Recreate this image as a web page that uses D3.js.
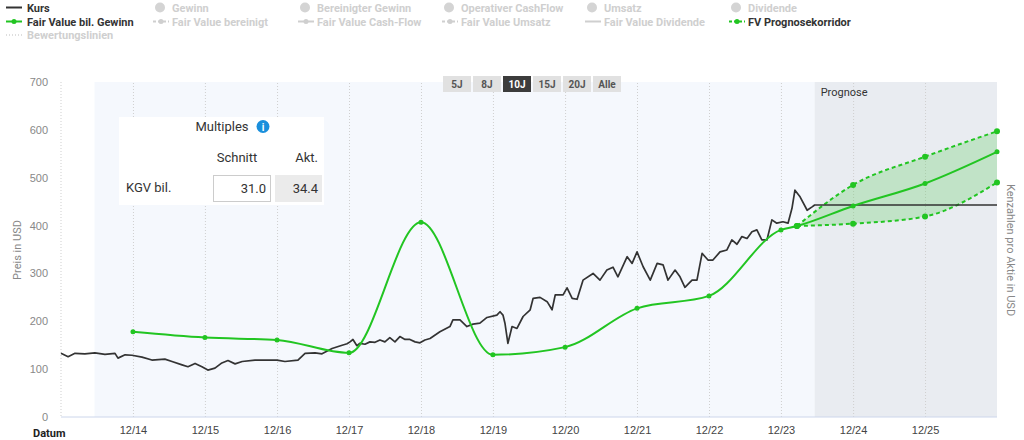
<!DOCTYPE html>
<html>
<head>
<meta charset="utf-8">
<script src="https://cdn.jsdelivr.net/npm/d3@7"></script>
<style>
  body { margin: 0; background: #fff; }
  svg { font-family: Roboto, "Open Sans", sans-serif; display: block; }
</style>
</head>
<body>
<div id="chart"></div>
<script>
// ---- data ----
var kursDates = [
  "2013-12-01","2014-01-06","2014-02-10","2014-04-01","2014-05-22","2014-07-12","2014-09-01","2014-09-16",
  "2014-10-22","2014-11-26","2015-01-16","2015-03-07","2015-05-12","2015-06-17","2015-08-07","2015-09-06",
  "2015-10-12","2015-11-16","2015-12-16","2016-01-21","2016-02-25","2016-03-27","2016-05-02","2016-06-07",
  "2016-08-11","2016-10-16","2016-12-01","2017-01-10","2017-03-17","2017-04-22","2017-06-12","2017-07-17",
  "2017-09-06","2017-10-27","2017-11-21","2017-12-06","2017-12-21","2018-01-10","2018-01-26","2018-02-20",
  "2018-03-17","2018-04-12","2018-05-07","2018-06-01","2018-06-26","2018-07-22","2018-08-16","2018-09-11",
  "2018-10-06","2018-11-01","2018-11-26","2018-12-21","2019-01-16","2019-03-07","2019-04-27","2019-05-12",
  "2019-06-17","2019-07-22","2019-08-22","2019-09-26","2019-11-01","2019-12-21","2020-01-06","2020-01-21",
  "2020-01-31","2020-02-15","2020-03-07","2020-04-01","2020-05-02","2020-06-07","2020-06-22","2020-07-27",
  "2020-09-01","2020-09-26","2020-10-12","2020-11-21","2020-12-11","2021-01-06","2021-01-31","2021-03-02",
  "2021-04-22","2021-05-27","2021-07-01","2021-08-01","2021-08-26","2021-10-12","2021-11-06","2021-12-01",
  "2022-01-01","2022-02-06","2022-03-13","2022-04-12","2022-05-07","2022-06-12","2022-07-07","2022-08-01",
  "2022-09-06","2022-10-01","2022-10-27","2022-11-26","2022-12-21","2023-01-26","2023-03-02","2023-03-27",
  "2023-04-22","2023-05-17","2023-06-12","2023-07-07","2023-08-01","2023-08-26","2023-09-21","2023-10-16",
  "2023-11-10","2023-12-11","2024-01-06","2024-01-26","2024-02-10","2024-03-07","2024-04-12","2024-05-07",
  "2024-05-20"
];
var kursValues = [
  133,126,133,132,134,131,133,123,
  130,129,125,119,121,116,109,105,
  112,105,98,102,113,118,111,116,
  119,119,119,116,119,133,134,132,
  143,150,153,157,162,149,154,152,
  157,156,161,157,166,157,168,162,
  162,157,155,161,164,178,189,203,
  203,189,194,196,208,213,220,213,
  196,154,189,185,210,224,248,250,
  241,224,255,255,270,248,246,286,
  300,286,307,313,293,335,321,345,
  314,286,321,318,286,307,293,271,
  286,286,342,328,328,345,349,370,
  361,377,373,387,391,370,370,412,
  405,408,405,436,474,460,432,439,
  443
];
var kursLast = 443;

var fvDates  = ["2014-12-01","2015-12-01","2016-12-01","2017-12-01","2018-12-01","2019-12-01","2020-12-01",
                "2021-12-01","2022-12-01","2023-12-01","2024-02-20","2024-12-01","2025-12-01","2026-12-01"];
var fvValues = [178,166,161,134,407,130,146,227,253,391,399,441,488,554];

var corridorDates = ["2024-02-20","2024-12-01","2025-12-01","2026-12-01"];
var corridorUpper = [399,485,544,597];
var corridorLower = [399,404,419,490];

var yTicks = [0,100,200,300,400,500,600,700];
var xTickDates = ["2014-12-01","2015-12-01","2016-12-01","2017-12-01","2018-12-01","2019-12-01",
                  "2020-12-01","2021-12-01","2022-12-01","2023-12-01","2024-12-01","2025-12-01"];
var rangeButtons = ["5J","8J","10J","15J","20J","Alle"];

var legendRow1 = ["Kurs","Gewinn","Bereinigter Gewinn","Operativer CashFlow","Umsatz","Dividende"];
var legendRow2 = ["Fair Value bil. Gewinn","Fair Value bereinigt","Fair Value Cash-Flow","Fair Value Umsatz","Fair Value Dividende","FV Prognosekorridor"];

var parse = d3.timeParse("%Y-%m-%d");
var green = "#22c522";

var W = 1024, H = 440;
var svg = d3.select("#chart").append("svg")
    .attr("width", W)
    .attr("height", H);

var x = d3.scaleTime()
    .domain([parse("2013-12-01"), parse("2026-12-01")])
    .range([61, 997]);
var y = d3.scaleLinear()
    .domain([0, 700])
    .range([417, 82]);

// plot backgrounds: 10J window and forecast zone
var today = parse("2024-05-20");
svg.append("rect")
    .attr("x", x(parse("2014-05-20"))).attr("y", y(700))
    .attr("width", x(today) - x(parse("2014-05-20")))
    .attr("height", y(0) - y(700))
    .attr("fill", "#f5f8fd");
svg.append("rect")
    .attr("x", x(today)).attr("y", y(700))
    .attr("width", x.range()[1] - x(today))
    .attr("height", y(0) - y(700))
    .attr("fill", "#e9ecf1");

// x axis with dotted vertical grid
var xAxis = svg.append("g")
    .attr("transform", "translate(0," + y(0) + ")")
    .call(d3.axisBottom(x)
      .tickValues(xTickDates.map(parse))
      .tickFormat(d3.timeFormat("%m/%y"))
      .tickSize(-(y(0) - y(700)))
      .tickPadding(9));
xAxis.select(".domain").remove();
xAxis.selectAll("line").attr("stroke", "#cfcfcf").attr("stroke-dasharray", "1,2");
xAxis.selectAll("text").attr("fill", "#444").style("font-size", "11px");

svg.append("line")
    .attr("x1", x.range()[0]).attr("x2", x.range()[0])
    .attr("y1", y(700)).attr("y2", y(0))
    .attr("stroke", "#cfcfcf").attr("stroke-dasharray", "1,2");
svg.append("line")
    .attr("x1", x.range()[0]).attr("x2", x.range()[1])
    .attr("y1", y(0)).attr("y2", y(0))
    .attr("stroke", "#ccd6eb");

svg.append("text")
    .attr("x", 33).attr("y", y(0) + 20)
    .text("Datum")
    .style("font-size", "11px").style("font-weight", "bold").attr("fill", "#222");

// y axis
var yAxis = svg.append("g")
    .attr("transform", "translate(" + x.range()[0] + ",0)")
    .call(d3.axisLeft(y).tickValues(yTicks).tickSize(0).tickPadding(13));
yAxis.select(".domain").remove();
yAxis.selectAll("text").attr("fill", "#888").style("font-size", "11px");

svg.append("text")
    .attr("transform", "translate(21,250) rotate(-90)")
    .attr("text-anchor", "middle")
    .text("Preis in USD")
    .style("font-size", "11px").attr("fill", "#888");
svg.append("text")
    .attr("transform", "translate(1007,250) rotate(90)")
    .attr("text-anchor", "middle")
    .text("Kenzahlen pro Aktie in USD")
    .style("font-size", "11px").attr("fill", "#888");

svg.append("text")
    .attr("x", x(today) + 6).attr("y", 96)
    .text("Prognose")
    .style("font-size", "11px").attr("fill", "#333");

// forecast corridor
var corridor = corridorDates.map(function(d, i) {
  return {date: parse(d), hi: corridorUpper[i], lo: corridorLower[i]};
});
svg.append("path")
    .datum(corridor)
    .attr("fill", "rgba(34,197,34,0.2)")
    .attr("d", d3.area()
      .curve(d3.curveMonotoneX)
      .x(function(d) { return x(d.date); })
      .y0(function(d) { return y(d.lo); })
      .y1(function(d) { return y(d.hi); }));

["hi", "lo"].forEach(function(k) {
  svg.append("path")
      .datum(corridor)
      .attr("fill", "none")
      .attr("stroke", green)
      .attr("stroke-width", 2)
      .attr("stroke-dasharray", "4,3")
      .attr("d", d3.line()
        .curve(d3.curveMonotoneX)
        .x(function(d) { return x(d.date); })
        .y(function(d) { return y(d[k]); }));
  svg.append("g").selectAll("circle")
      .data(corridor)
      .enter().append("circle")
      .attr("cx", function(d) { return x(d.date); })
      .attr("cy", function(d) { return y(d[k]); })
      .attr("r", 3)
      .attr("fill", green);
});

// price line
var kurs = kursDates.map(function(d, i) { return {date: parse(d), v: kursValues[i]}; });
kurs.push({date: x.domain()[1], v: kursLast});
svg.append("path")
    .datum(kurs)
    .attr("fill", "none")
    .attr("stroke", "#333")
    .attr("stroke-width", 1.7)
    .attr("stroke-linejoin", "round")
    .attr("d", d3.line()
      .x(function(d) { return x(d.date); })
      .y(function(d) { return y(d.v); }));

// fair value line
var fv = fvDates.map(function(d, i) { return {date: parse(d), v: fvValues[i]}; });
svg.append("path")
    .datum(fv)
    .attr("fill", "none")
    .attr("stroke", green)
    .attr("stroke-width", 2)
    .attr("d", d3.line()
      .curve(d3.curveMonotoneX)
      .x(function(d) { return x(d.date); })
      .y(function(d) { return y(d.v); }));
svg.append("g").selectAll("circle")
    .data(fv)
    .enter().append("circle")
    .attr("cx", function(d) { return x(d.date); })
    .attr("cy", function(d) { return y(d.v); })
    .attr("r", 2.5)
    .attr("fill", green);

// range buttons
var btn = svg.append("g").selectAll("g")
    .data(rangeButtons)
    .enter().append("g")
    .attr("transform", function(d, i) { return "translate(" + (443 + i * 30) + ",76)"; });
btn.append("rect")
    .attr("width", 28).attr("height", 16)
    .attr("fill", function(d) { return d === "10J" ? "#3c3c3c" : "#e1e1e1"; });
btn.append("text")
    .attr("x", 14).attr("y", 12)
    .attr("text-anchor", "middle")
    .text(function(d) { return d; })
    .style("font-size", "10px").style("font-weight", "bold")
    .attr("fill", function(d) { return d === "10J" ? "#fff" : "#555"; });

// multiples box
var mb = svg.append("g").attr("transform", "translate(119,117)");
mb.append("rect").attr("width", 205).attr("height", 88).attr("fill", "#fff");
mb.append("text").attr("x", 103).attr("y", 14).attr("text-anchor", "middle")
    .text("Multiples").style("font-size", "13px").attr("fill", "#333");
mb.append("circle").attr("cx", 144).attr("cy", 9.5).attr("r", 6.5).attr("fill", "#1a8fdc");
mb.append("text").attr("x", 144).attr("y", 13.5).attr("text-anchor", "middle")
    .text("i").style("font-size", "10px").style("font-weight", "bold").attr("fill", "#fff");
mb.append("text").attr("x", 118).attr("y", 45).attr("text-anchor", "middle")
    .text("Schnitt").style("font-size", "13px").attr("fill", "#333");
mb.append("text").attr("x", 199).attr("y", 45).attr("text-anchor", "end")
    .text("Akt.").style("font-size", "13px").attr("fill", "#333");
mb.append("text").attr("x", 7).attr("y", 75)
    .text("KGV bil.").style("font-size", "13px").attr("fill", "#333");
mb.append("rect").attr("x", 94.5).attr("y", 58.5).attr("width", 57).attr("height", 26)
    .attr("fill", "#fff").attr("stroke", "#ccc");
mb.append("text").attr("x", 147).attr("y", 76).attr("text-anchor", "end")
    .text("31.0").style("font-size", "13px").attr("fill", "#333");
mb.append("rect").attr("x", 156).attr("y", 58).attr("width", 47).attr("height", 27).attr("fill", "#ebebeb");
mb.append("text").attr("x", 199).attr("y", 76).attr("text-anchor", "end")
    .text("34.4").style("font-size", "13px").attr("fill", "#333");

// legend
var legX = [6, 153, 298, 442, 585, 729];
var lg = svg.append("g").style("font-size", "11px").style("font-weight", "bold");
legendRow1.forEach(function(name, i) {
  var on = i === 0;
  if (on) {
    lg.append("line").attr("x1", legX[i]).attr("x2", legX[i] + 16).attr("y1", 7.5).attr("y2", 7.5)
      .attr("stroke", "#333").attr("stroke-width", 2);
  } else {
    lg.append("circle").attr("cx", legX[i] + 7).attr("cy", 7.5).attr("r", 5).attr("fill", "#d4d4d4");
  }
  lg.append("text").attr("x", legX[i] + (on ? 21 : 19)).attr("y", 11.5)
    .text(name).attr("fill", on ? "#333" : "#cfcfcf");
});
legendRow2.forEach(function(name, i) {
  var on = i === 0 || i === 5;
  var col = i === 0 || i === 5 ? green : "#cfcfcf";
  var dash = i === 1 || i === 3 || i === 5 ? "3,2" : null;
  lg.append("line").attr("x1", legX[i]).attr("x2", legX[i] + 16).attr("y1", 21.5).attr("y2", 21.5)
    .attr("stroke", col).attr("stroke-width", 2).attr("stroke-dasharray", dash);
  if (i !== 4) {
    lg.append("circle").attr("cx", legX[i] + 8).attr("cy", 21.5).attr("r", 2.5).attr("fill", col);
  }
  lg.append("text").attr("x", legX[i] + (i === 0 ? 21 : 19)).attr("y", 25.5)
    .text(name).attr("fill", on ? "#333" : "#cfcfcf");
});
lg.append("line").attr("x1", 6).attr("x2", 22).attr("y1", 35).attr("y2", 35)
  .attr("stroke", "#d4d4d4").attr("stroke-width", 1.5).attr("stroke-dasharray", "1,2");
lg.append("text").attr("x", 27).attr("y", 39).text("Bewertungslinien").attr("fill", "#cfcfcf");
</script>
</body>
</html>
